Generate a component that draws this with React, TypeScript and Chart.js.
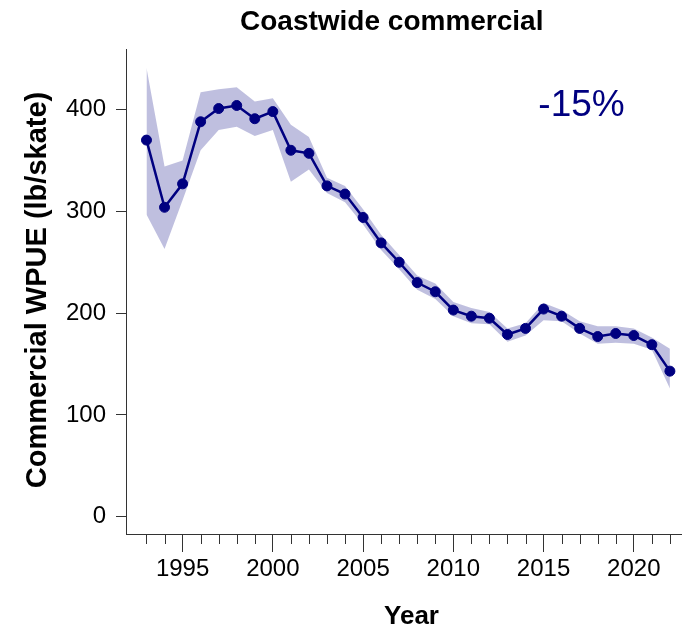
import React, { useEffect, useRef } from "react";
import { Chart, registerables } from "chart.js";

Chart.register(...registerables);

// ---------- data ----------
const years = [
  1993, 1994, 1995, 1996, 1997, 1998, 1999, 2000, 2001, 2002,
  2003, 2004, 2005, 2006, 2007, 2008, 2009, 2010, 2011, 2012,
  2013, 2014, 2015, 2016, 2017, 2018, 2019, 2020, 2021, 2022,
];
const wpue = [
  370, 304, 327, 388, 401, 404, 391, 398, 360, 357,
  325, 317, 294, 269, 250, 230, 221, 203, 197, 195,
  179, 185, 204, 197, 185, 177, 180, 178, 169, 143,
];
const upper = [
  441, 344, 350, 417, 420, 422, 408, 411, 385, 373,
  333, 325, 302, 277, 257, 237, 229, 211, 205, 201,
  185, 190, 210, 203, 192, 187, 187, 185, 176, 165,
];
const lower = [
  297, 263, 311, 360, 380, 383, 374, 380, 329, 341,
  318, 309, 287, 262, 243, 223, 214, 197, 190, 189,
  172, 178, 193, 192, 180, 170, 171, 170, 164, 126,
];
const yTickValues = [0, 100, 200, 300, 400];
const xLabelYears = [1995, 2000, 2005, 2010, 2015, 2020];
const chartTitle = "Coastwide commercial";
const xTitle = "Year";
const yTitle = "Commercial WPUE (lb/skate)";
const changeLabel = "-15%";

// ---------- styles ----------
const NAVY = "#000080";
const BAND = "rgba(0,0,128,0.25)";
const AXIS = "#333333";
const FONT = "'Liberation Sans', Arial, Helvetica, sans-serif";

export default function App() {
  const ref = useRef<HTMLCanvasElement>(null);

  useEffect(() => {
    const canvas = ref.current;
    if (!canvas) return;

    const textPlugin = {
      id: "extraTexts",
      afterDraw(chart: any) {
        const ctx = chart.ctx as CanvasRenderingContext2D;
        const xs = chart.scales.x;
        const bottom = chart.chartArea.bottom;
        ctx.save();
        // minor ticks
        ctx.strokeStyle = AXIS;
        ctx.lineWidth = 1;
        years.forEach((yr) => {
          if (xLabelYears.includes(yr)) return;
          const px = Math.round(xs.getPixelForValue(yr)) + 0.5;
          ctx.beginPath();
          ctx.moveTo(px, bottom);
          ctx.lineTo(px, bottom + 10);
          ctx.stroke();
        });
        // title
        ctx.fillStyle = "#000";
        ctx.font = `bold 28px ${FONT}`;
        ctx.textAlign = "left";
        ctx.textBaseline = "alphabetic";
        ctx.fillText(chartTitle, 240, 29.5);
        // x title
        ctx.font = `bold 26px ${FONT}`;
        ctx.textAlign = "center";
        ctx.fillText(xTitle, 411.5, 624);
        // y title
        ctx.save();
        ctx.translate(45.5, 290);
        ctx.rotate(-Math.PI / 2);
        ctx.font = `bold 29px ${FONT}`;
        ctx.textAlign = "center";
        ctx.fillText(yTitle, 0, 0);
        ctx.restore();
        // change annotation
        ctx.fillStyle = NAVY;
        ctx.font = `37px ${FONT}`;
        ctx.textAlign = "center";
        ctx.fillText(changeLabel, 581.5, 115.7);
        ctx.restore();
      },
    };

    const chart = new Chart(canvas, {
      type: "line",
      data: {
        datasets: [
          {
            label: "lower",
            data: years.map((x, i) => ({ x, y: lower[i] })),
            borderWidth: 0,
            borderColor: "rgba(0,0,0,0)",
            pointRadius: 0,
            fill: false,
            tension: 0,
          },
          {
            label: "upper",
            data: years.map((x, i) => ({ x, y: upper[i] })),
            borderWidth: 0,
            borderColor: "rgba(0,0,0,0)",
            backgroundColor: BAND,
            pointRadius: 0,
            fill: "-1",
            tension: 0,
          },
          {
            label: "WPUE",
            data: years.map((x, i) => ({ x, y: wpue[i] })),
            borderColor: NAVY,
            backgroundColor: NAVY,
            borderWidth: 2.5,
            pointRadius: 5,
            pointBackgroundColor: NAVY,
            pointBorderColor: NAVY,
            pointBorderWidth: 1,
            fill: false,
            tension: 0,
          },
        ],
      },
      options: {
        responsive: false,
        animation: false,
        devicePixelRatio: 1,
        layout: { padding: { top: 49, left: 0, right: 0, bottom: 0 } },
        plugins: {
          legend: { display: false },
          tooltip: { enabled: false },
          title: { display: false },
        },
        scales: {
          x: {
            type: "linear",
            min: 1991.865,
            max: 2022.615,
            afterFit: (s: any) => {
              s.height = 94;
            },
            afterBuildTicks: (s: any) => {
              s.ticks = years.map((v) => ({ value: v }));
            },
            ticks: {
              autoSkip: false,
              maxRotation: 0,
              minRotation: 0,
              padding: 3,
              color: "#000",
              font: { family: FONT, size: 24 },
              callback: (v: any) => (xLabelYears.includes(Number(v)) ? String(v) : ""),
            },
            grid: {
              drawOnChartArea: false,
              drawTicks: true,
              tickLength: 18,
              tickColor: (c: any) =>
                c.tick && xLabelYears.includes(c.tick.value) ? AXIS : "rgba(0,0,0,0)",
            },
            border: { display: true, color: AXIS, width: 1 },
          },
          y: {
            type: "linear",
            min: -17,
            max: 459.5,
            afterFit: (s: any) => {
              s.width = 126;
            },
            afterBuildTicks: (s: any) => {
              s.ticks = yTickValues.map((v) => ({ value: v }));
            },
            ticks: {
              padding: 10,
              color: "#000",
              font: { family: FONT, size: 24 },
              callback: (v: any) => String(v),
            },
            grid: {
              drawOnChartArea: false,
              drawTicks: true,
              tickLength: 10,
              tickColor: AXIS,
            },
            border: { display: true, color: AXIS, width: 1 },
          },
        },
      },
      plugins: [textPlugin],
    } as any);

    return () => chart.destroy();
  }, []);

  return (
    <div style={{ position: "absolute", left: 0, top: 0, width: 687, height: 628, background: "#fff" }}>
      <canvas ref={ref} width={687} height={628} style={{ display: "block" }} />
    </div>
  );
}
